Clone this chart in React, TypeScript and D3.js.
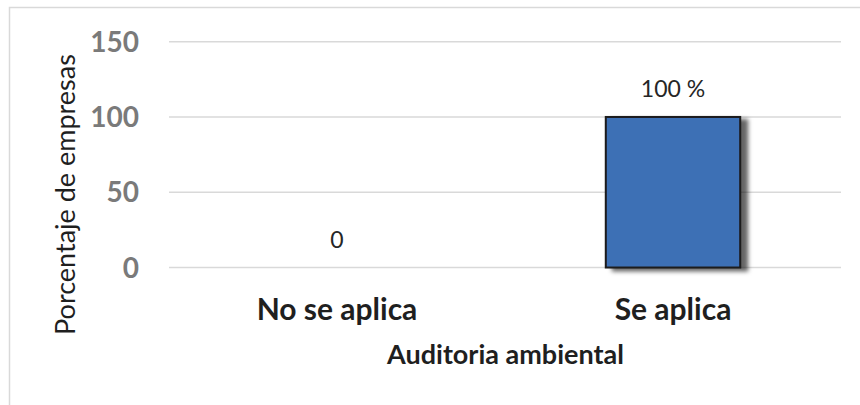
import React from "react";
import * as d3 from "d3";

// Data
const categories = ["No se aplica", "Se aplica"];
const values = [0, 100];
const valueLabels = ["0", "100 %"];
const yTicks = [0, 50, 100, 150];

const W = 860;
const H = 405;

const FONT = "Lato, 'Open Sans', sans-serif";

export default function App() {
  const x = d3
    .scaleBand<string>()
    .domain(categories)
    .range([169, 841])
    .paddingInner(0.6)
    .paddingOuter(0.3);

  const y = d3.scaleLinear().domain([0, 150]).range([267.5, 41.7]);

  return (
    <svg
      width={W}
      height={H}
      viewBox={`0 0 ${W} ${H}`}
      style={{ position: "fixed", left: 0, top: 0, background: "#fff" }}
    >
      <defs>
        <filter id="barShadow" x="-20%" y="-20%" width="150%" height="150%">
          <feDropShadow dx="7" dy="3" stdDeviation="2" floodColor="#000" floodOpacity="0.6" />
        </filter>
      </defs>

      {/* chart frame */}
      <rect x={9.5} y={7.5} width={880} height={420} fill="#fff" stroke="#d9d9d9" strokeWidth={1.5} />

      {/* gridlines */}
      {yTicks.map((t) => (
        <line
          key={`g${t}`}
          x1={x.range()[0]}
          x2={x.range()[1]}
          y1={y(t)}
          y2={y(t)}
          stroke="#d9d9d9"
          strokeWidth={1.5}
        />
      ))}

      {/* y tick labels */}
      {yTicks.map((t) => (
        <text
          key={`t${t}`}
          x={139}
          y={y(t) + 10}
          textAnchor="end"
          fontFamily={FONT}
          fontWeight={700}
          fontSize={28}
          fill="#7a7a7a"
        >
          {t}
        </text>
      ))}

      {/* bars */}
      {categories.map((c, i) =>
        values[i] > 0 ? (
          <rect
            key={`b${c}`}
            x={x(c)!}
            y={y(values[i])}
            width={x.bandwidth()}
            height={y(0) - y(values[i])}
            fill="#3e70b5"
            stroke="#1c1c1c"
            strokeWidth={2}
            filter="url(#barShadow)"
          />
        ) : null
      )}

      {/* value labels */}
      {categories.map((c, i) => (
        <text
          key={`v${c}`}
          x={x(c)! + x.bandwidth() / 2}
          y={y(values[i]) - 20}
          textAnchor="middle"
          fontFamily={FONT}
          fontSize={23}
          fill="#262626"
        >
          {valueLabels[i]}
        </text>
      ))}

      {/* category labels */}
      {categories.map((c) => (
        <text
          key={`c${c}`}
          x={x(c)! + x.bandwidth() / 2}
          y={320}
          textAnchor="middle"
          fontFamily={FONT}
          fontWeight={700}
          fontSize={30}
          fill="#1f1f1f"
        >
          {c}
        </text>
      ))}

      {/* x axis title */}
      <text
        x={505.5}
        y={364}
        textAnchor="middle"
        fontFamily={FONT}
        fontWeight={700}
        fontSize={27}
        fill="#1f1f1f"
      >
        Auditoria ambiental
      </text>

      {/* y axis title */}
      <text
        transform="translate(75,194.5) rotate(-90)"
        textAnchor="middle"
        fontFamily={FONT}
        fontSize={27}
        fill="#1f1f1f"
      >
        Porcentaje de empresas
      </text>
    </svg>
  );
}
